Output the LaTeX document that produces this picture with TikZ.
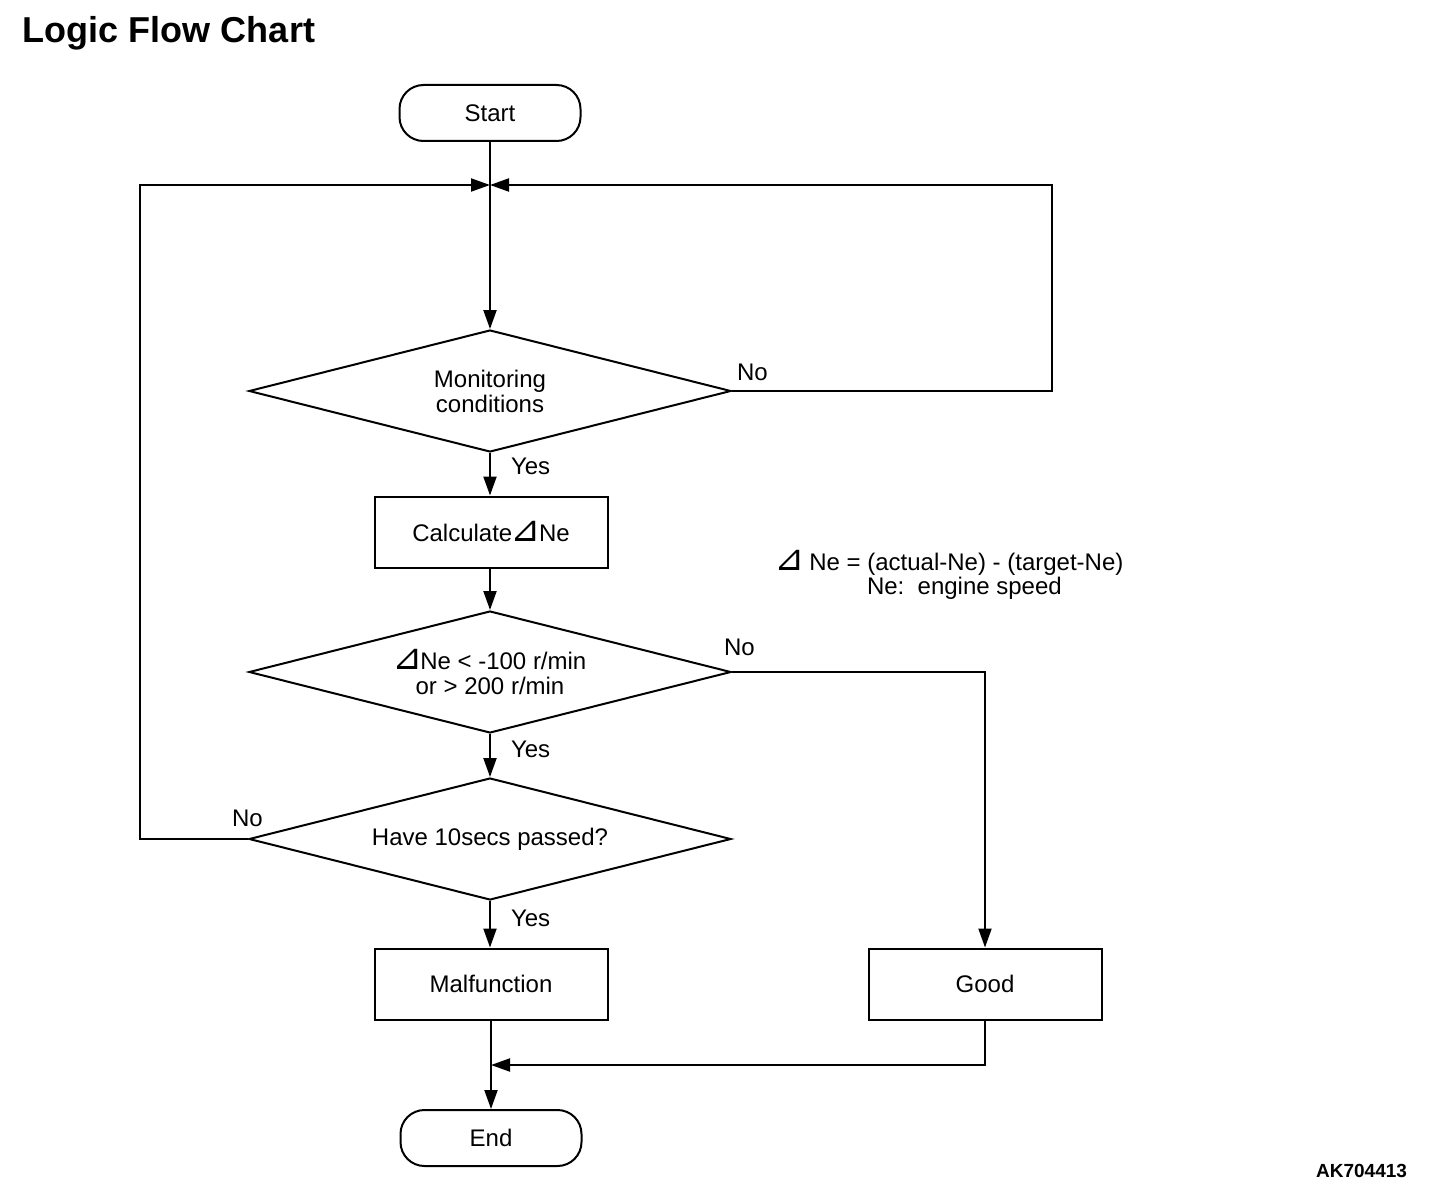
\documentclass[tikz,border=0pt]{standalone}
\usepackage{fontspec}
\setmainfont{Liberation Sans}
\newfontfamily\dvfont{DejaVu Sans}
\usetikzlibrary{shapes.geometric,arrows.meta}
\newcommand{\tri}{\kern-1.5pt\scalebox{1.5}{\dvfont ⊿}\kern-2pt}
\begin{document}
\begin{tikzpicture}[x=1pt,y=-1pt,
  line width=2pt,
  every node/.style={font=\fontsize{24}{25}\selectfont},
  arr/.style={-{Triangle[length=19pt,width=13pt]}},
  term/.style={draw,rounded corners=24pt,minimum width=181pt,minimum height=56pt,inner sep=0pt},
  proc/.style={draw,minimum width=233pt,minimum height=71pt,inner sep=0pt},
  dec/.style={draw,diamond,aspect=3.95,minimum width=482pt,minimum height=122pt,inner sep=0pt,align=center},
  lbl/.style={inner sep=0pt,anchor=west}
]
\useasboundingbox (0,0) rectangle (1456,1196);
\node[font=\fontsize{36}{37}\selectfont\bfseries,anchor=base west,inner sep=0pt] (title) at (22,43) {Logic Flow Chart};

\node[term] (start) at (490,113) {Start};
\node[dec] (d1) at (490,391) {Monitoring\\conditions};
\node[proc] (calc) at (491,532) {Calculate\tri Ne};
\node[dec] (d2) at (490,672) {\tri Ne < -100 r/min\\or > 200 r/min};
\node[dec] (d3) at (490,839) {Have 10secs passed?};
\node[proc] (mal) at (491,984) {Malfunction};
\node[proc] (good) at (985,984) {Good};
\node[term] (end) at (491,1138) {End};

\coordinate (j) at (490,185);
\coordinate (j2) at (491,1065);

\draw[arr] (start.south) -- (d1.north);
\draw[arr] (d1.east) -- (1052,391) -- (1052,185) -- (j);
\draw[arr] (d3.west) -- (140,839) -- (140,185) -- (j);
\draw[arr] (d1.south) -- (calc.north -| d1.south);
\draw[arr] (calc.south -| d2.north) -- (d2.north);
\draw[arr] (d2.south) -- (d3.north);
\draw[arr] (d2.east) -- (985,672) -- (good.north);
\draw[arr] (d3.south) -- (mal.north -| d3.south);
\draw[arr] (mal.south) -- (end.north);
\draw[arr] (good.south) -- (985,1065) -- (j2);

\node[lbl] (no1) at (736,372) {No};
\node[lbl] (yes1) at (510,466) {Yes};
\node[lbl] (no2) at (723,647) {No};
\node[lbl] (yes2) at (510,749) {Yes};
\node[lbl] (no3) at (231,818) {No};
\node[lbl] (yes3) at (510,918) {Yes};

\node[lbl] (note1) at (775,563) {\tri\ Ne = (actual-Ne) - (target-Ne)};
\node[lbl] (note2) at (866,588) {Ne:\ \ engine speed};

\node[font=\fontsize{19}{20}\selectfont\bfseries,anchor=east,inner sep=0pt] (code) at (1408,1171) {AK704413};
\end{tikzpicture}
\end{document}
